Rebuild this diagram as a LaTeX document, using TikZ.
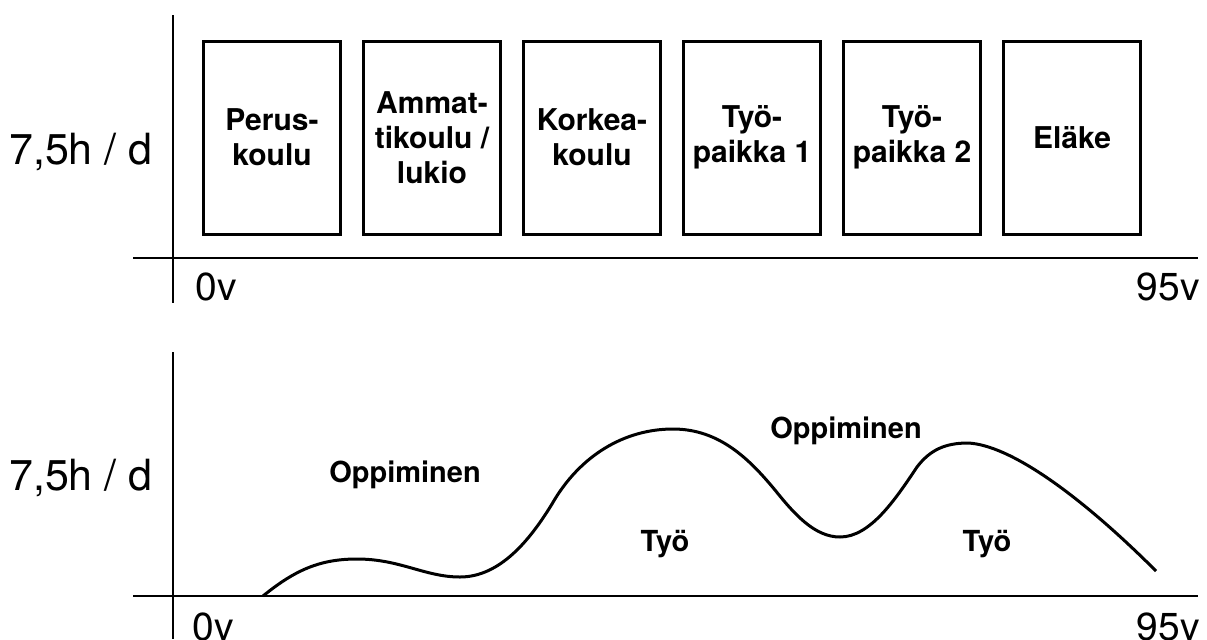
\documentclass[tikz,border=0pt]{standalone}
\usepackage{fontspec}
\setmainfont{TeX Gyre Heros}
\begin{document}
\begin{tikzpicture}[x=0.5pt,y=-0.5pt,
    axis/.style={line width=0.75pt},
    big/.style={inner sep=0pt,font=\fontsize{21.5pt}{24pt}\selectfont},
    age/.style={inner sep=0pt,font=\fontsize{19.5pt}{22pt}\selectfont},
    lbl/.style={inner sep=0pt,font=\fontsize{14.5pt}{17.5pt}\selectfont\bfseries}]

  \useasboundingbox (0,0) rectangle (1207,639);

  % top chart
  \coordinate (ya) at (173,15);
  \coordinate (yb) at (173,303);
  \coordinate (xa) at (133,258);
  \coordinate (xb) at (1198,258);
  \draw[axis] (ya) -- (yb);
  \draw[axis] (xa) -- (xb);

  \node[big,anchor=base east] (h1) at (153,164) {7,5h / d};
  \node[age,anchor=base west] (a0) at (195,300) {0v};
  \node[age,anchor=base east] (a95) at (1200,300) {95v};

  \begin{scope}[every node/.style={draw,line width=1.5pt,minimum width=68.5pt,
      minimum height=96.5pt,align=center,inner sep=0pt,
      font=\fontsize{15pt}{17.5pt}\selectfont\bfseries}]
    \node (perus)  at (272,137.5)  {Perus-\\koulu};
    \node (ammat)  at (432,137.5)  {Ammat-\\tikoulu /\\lukio};
    \node (korkea) at (592,137.5)  {Korkea-\\koulu};
    \node (tp1)    at (752,137.5)  {Työ-\\paikka 1};
    \node (tp2)    at (912,137.5)  {Työ-\\paikka 2};
    \node (elake)  at (1072,137.5) {Eläke};
  \end{scope}

  % bottom chart
  \coordinate (yc) at (173,352);
  \coordinate (yd) at (173,639);
  \coordinate (xc) at (133,596);
  \coordinate (xd) at (1198,596);
  \draw[axis] (yc) -- (yd);
  \draw[axis] (xc) -- (xd);

  \node[big,anchor=base east] (h2) at (153,490) {7,5h / d};
  \node[age,anchor=base west] (b0) at (192,640) {0v};
  \node[age,anchor=base east] (b95) at (1200,640) {95v};

  \draw[line width=1.5pt] (263,596)
    .. controls (295,570) and (320,559) .. (357,559)
    .. controls (400,559) and (425,577) .. (460,577)
    .. controls (500,577) and (530,540) .. (552,504)
    .. controls (580,455) and (625,429) .. (673,429)
    .. controls (720,429) and (750,460) .. (775,490)
    .. controls (795,515) and (815,537) .. (840,537)
    .. controls (870,537) and (895,500) .. (917,467)
    .. controls (930,450) and (945,443) .. (968,443)
    .. controls (1010,445) and (1080,495) .. (1156,571);

  \node[lbl,anchor=base] (opp1) at (405,482) {Oppiminen};
  \node[lbl,anchor=base] (tyo1) at (665,551) {Työ};
  \node[lbl,anchor=base] (opp2) at (846,438) {Oppiminen};
  \node[lbl,anchor=base] (tyo2) at (987,551) {Työ};

\end{tikzpicture}
\end{document}
